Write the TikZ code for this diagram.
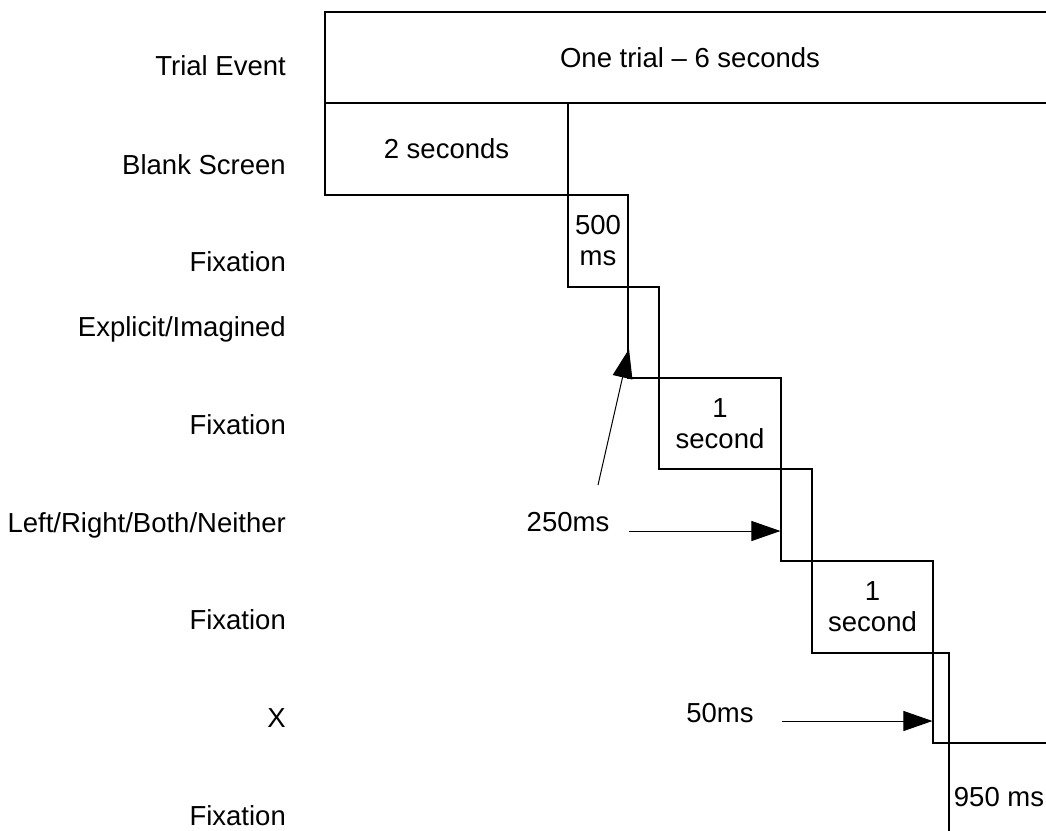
\documentclass[tikz,border=0pt]{standalone}
\usepackage{fontspec}
\setmainfont{Liberation Sans}
\usetikzlibrary{arrows.meta}

\begin{document}
\begin{tikzpicture}
[
    x=1pt, y=-1pt,
    every node/.style={font=\fontsize{27.5}{31}\selectfont},
    phase/.style={draw, line width=1.1pt, inner sep=0pt, align=center},
    rowlabel/.style={anchor=base east, inner sep=0pt},
    marker/.style={line width=1pt, -{Triangle[length=29pt, width=20pt]}},
]
\useasboundingbox (0,0) rectangle (1046,830);
\clip (0,0) rectangle (1046,830);
\node [rowlabel] (lTrial) at (286,75) {Trial Event};
\node [rowlabel] (lBlank) at (286,174) {Blank Screen};
\node [rowlabel] (lFixA) at (286,271) {Fixation};
\node [rowlabel] (lExpl) at (286,336) {Explicit/Imagined};
\node [rowlabel] (lFixB) at (286,434) {Fixation};
\node [rowlabel] (lLrbn) at (286,532) {Left/Right/Both/Neither};
\node [rowlabel] (lFixC) at (286,629) {Fixation};
\node [rowlabel] (lX) at (286,727) {X};
\node [rowlabel] (lFixD) at (286,825) {Fixation};
\node [phase, minimum width=730pt, minimum height=91pt] (trial) at (690,57.5) {One trial – 6 seconds};
\node [phase, minimum width=243pt, minimum height=92pt] (blank) at (446.5,149) {2 seconds};
\node [phase, minimum width=60pt, minimum height=92pt] (fixA) at (598,241) {500\\ms};
\node [phase, minimum width=31pt, minimum height=91pt] (expl) at (643.5,332.5) {};
\node [phase, minimum width=122pt, minimum height=91pt] (fixB) at (720,423.5) {1\\second};
\node [phase, minimum width=31pt, minimum height=92pt] (lrbn) at (796.5,515) {};
\node [phase, minimum width=121pt, minimum height=92pt] (fixC) at (872.5,607) {1\\second};
\node [phase, minimum width=16pt, minimum height=90pt] (xbox) at (941,698) {};
\node [phase, minimum width=100pt, minimum height=108pt] (fixD) at (999,797) {950 ms};
\node [inner sep=0pt] (t250) at (568,522) {250ms};
\node [inner sep=0pt] (t50) at (720,713) {50ms};
\coordinate (s250) at (629,531);
\coordinate (s50) at (782,721);
\coordinate (sExpl) at (598,485);
\draw [marker] (s250) -- (lrbn.west |- s250);
\draw [marker] (s50) -- (xbox.west |- s50);
\draw [marker] (sExpl) -- (629,349);
\end{tikzpicture}
\end{document}
